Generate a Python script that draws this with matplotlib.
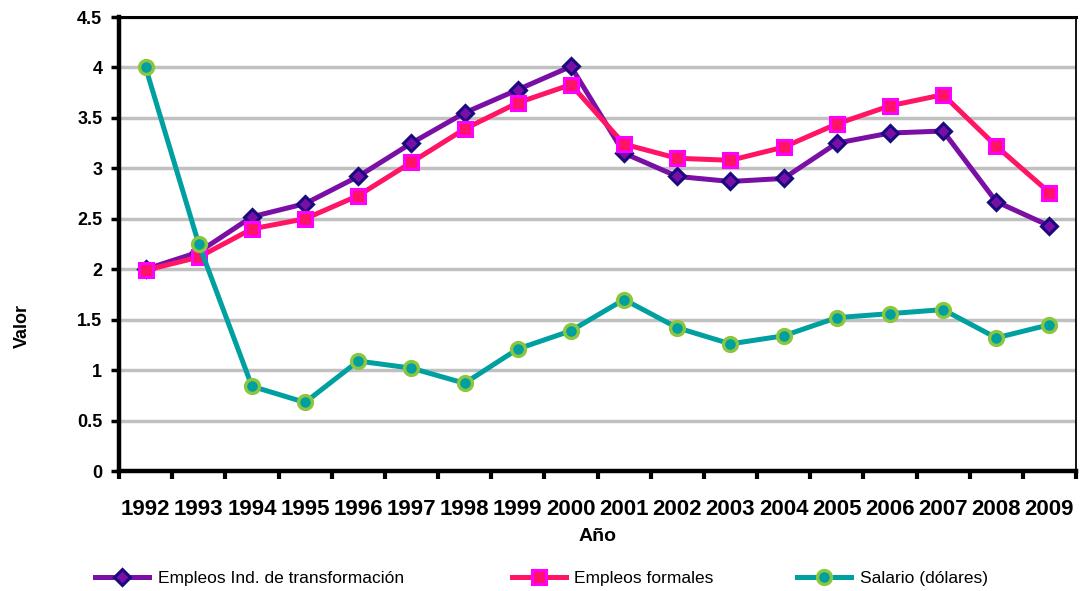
import numpy as np
import matplotlib
matplotlib.use("Agg")
import matplotlib.pyplot as plt

plt.rcParams['font.family'] = ['Liberation Sans', 'DejaVu Sans']

# years on the x axis
years = ["1992", "1993", "1994", "1995", "1996", "1997", "1998", "1999", "2000",
         "2001", "2002", "2003", "2004", "2005", "2006", "2007", "2008", "2009"]

# series
empleos_ind = [2.00, 2.17, 2.52, 2.65, 2.92, 3.25, 3.55, 3.78, 4.01,
               3.15, 2.92, 2.87, 2.90, 3.25, 3.35, 3.37, 2.67, 2.43]
empleos_formales = [1.99, 2.12, 2.40, 2.50, 2.73, 3.06, 3.39, 3.65, 3.83,
                    3.24, 3.10, 3.08, 3.21, 3.44, 3.62, 3.73, 3.22, 2.76]
salario = [4.00, 2.25, 0.84, 0.68, 1.09, 1.02, 0.87, 1.21, 1.39,
           1.70, 1.42, 1.26, 1.34, 1.52, 1.56, 1.60, 1.32, 1.45]

labels = ["Empleos Ind. de transformación", "Empleos formales", "Salario (dólares)"]

fig = plt.figure(figsize=(10.8, 5.91), dpi=100)
ax = fig.add_axes([0.1102, 0.2030, 0.8861, 0.7682])

x = np.arange(len(years))

l1, = ax.plot(x, empleos_ind, color="#7A0FA6", lw=3.6, marker="D", markersize=8,
              markerfacecolor="#7A0FA6", markeredgecolor="#1A0A80", markeredgewidth=2.2,
              zorder=3)
l2, = ax.plot(x, empleos_formales, color="#FF1466", lw=3.6, marker="s", markersize=10,
              markerfacecolor="#FF1466", markeredgecolor="#FF00FF", markeredgewidth=2.2,
              zorder=4)
l3, = ax.plot(x, salario, color="#00A0A0", lw=3.6, marker="o", markersize=10,
              markerfacecolor="#00A0A0", markeredgecolor="#8CC63F", markeredgewidth=2.4,
              zorder=5)

ax.set_xlim(-0.5, len(years) - 0.5)
ax.set_ylim(0, 4.5)
ax.set_yticks(np.arange(0, 4.51, 0.5))
ax.set_yticklabels(["0", "0.5", "1", "1.5", "2", "2.5", "3", "3.5", "4", "4.5"],
                   fontsize=13, fontweight="bold")
ax.set_xticks(x)
ax.set_xticklabels(years, fontsize=16, fontweight="bold")
ax.set_xticks(np.arange(-0.5, len(years), 1.0), minor=True)
ax.tick_params(axis="x", which="major", length=0, pad=20)
ax.tick_params(axis="x", which="minor", length=6, width=3, direction="out")
ax.tick_params(axis="y", length=6, width=2.5, direction="out", pad=6)

ax.grid(axis="y", color="#C0C0C0", lw=2.5)
ax.set_axisbelow(True)

for side in ["left", "bottom"]:
    ax.spines[side].set_linewidth(3.2)
ax.spines["top"].set_linewidth(2.2)
ax.spines["right"].set_linewidth(1.3)

ax.set_ylabel("Valor", fontsize=13, fontweight="bold")
ax.yaxis.set_label_coords(-0.092, 0.32)
ax.set_xlabel("Año", fontsize=14, fontweight="bold", labelpad=6)

# legend entries placed one by one along the bottom
for handle, text, xpos in zip([l1, l2, l3], labels, [95, 512, 797]):
    fig.legend(handles=[handle], labels=[text], loc="center left",
               bbox_to_anchor=(xpos / 1080, 1 - 578 / 591), frameon=False,
               fontsize=12.5, handlelength=3.1, handletextpad=0.5,
               borderpad=0, borderaxespad=0)

fig.savefig("out.png", dpi=100)
